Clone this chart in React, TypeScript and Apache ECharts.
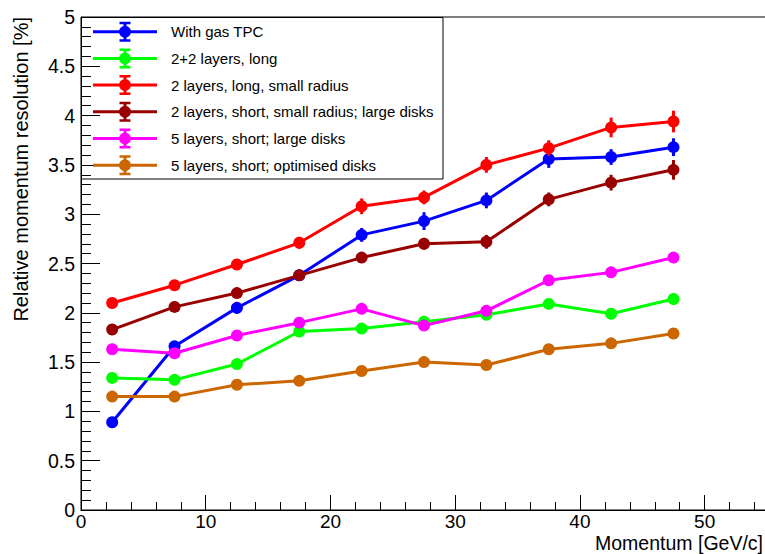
import React, { useEffect, useRef } from "react";
import * as echarts from "echarts";

const momenta = [2.5, 7.5, 12.5, 17.5, 22.5, 27.5, 32.5, 37.5, 42.5, 47.5];

const seriesNames = [
  "With gas TPC",
  "2+2 layers, long",
  "2 layers, long, small radius",
  "2 layers, short, small radius; large disks",
  "5 layers, short; large disks",
  "5 layers, short; optimised disks",
];

const seriesColors = ["#0000ff", "#00ff00", "#ff0000", "#990000", "#ff00ff", "#cc6600"];

const withGasTPC = [0.89, 1.66, 2.05, 2.38, 2.79, 2.93, 3.14, 3.56, 3.58, 3.68];
const twoPlusTwoLong = [1.34, 1.32, 1.48, 1.81, 1.84, 1.91, 1.98, 2.09, 1.99, 2.14];
const twoLongSmall = [2.1, 2.28, 2.49, 2.71, 3.08, 3.17, 3.5, 3.67, 3.88, 3.94];
const twoShortSmallLarge = [1.83, 2.06, 2.2, 2.38, 2.56, 2.7, 2.72, 3.15, 3.32, 3.45];
const fiveShortLarge = [1.63, 1.59, 1.77, 1.9, 2.04, 1.87, 2.02, 2.33, 2.41, 2.56];
const fiveShortOptimised = [1.15, 1.15, 1.27, 1.31, 1.41, 1.5, 1.47, 1.63, 1.69, 1.79];

const errWithGasTPC = [0.03, 0.05, 0.06, 0.05, 0.07, 0.09, 0.08, 0.09, 0.08, 0.09];
const errTwoPlusTwoLong = [0.03, 0.03, 0.04, 0.05, 0.04, 0.05, 0.05, 0.05, 0.05, 0.06];
const errTwoLongSmall = [0.04, 0.04, 0.05, 0.06, 0.08, 0.07, 0.08, 0.08, 0.1, 0.11];
const errTwoShortSmallLarge = [0.03, 0.04, 0.04, 0.05, 0.05, 0.06, 0.07, 0.07, 0.08, 0.1];
const errFiveShortLarge = [0.03, 0.03, 0.03, 0.04, 0.04, 0.05, 0.04, 0.05, 0.05, 0.05];
const errFiveShortOptimised = [0.02, 0.02, 0.03, 0.03, 0.03, 0.03, 0.03, 0.03, 0.03, 0.03];

const allValues = [withGasTPC, twoPlusTwoLong, twoLongSmall, twoShortSmallLarge, fiveShortLarge, fiveShortOptimised];
const allErrors = [errWithGasTPC, errTwoPlusTwoLong, errTwoLongSmall, errTwoShortSmallLarge, errFiveShortLarge, errFiveShortOptimised];

const FONT = "'Liberation Sans', Arial, Helvetica, sans-serif";

const legendIcon =
  "path://M0 8.5H64V11.5H0Z M26.5 0H37.5V2.5H26.5Z M26.5 17.5H37.5V20H26.5Z M30.5 2.5H33.5V17.5H30.5Z M32 4A6 6 0 1 1 32 16A6 6 0 1 1 32 4Z M72.9 9.9H73V10H72.9Z";

export default function App() {
  const ref = useRef<HTMLDivElement>(null);
  useEffect(() => {
    if (!ref.current) return;
    const chart = echarts.init(ref.current, undefined, { renderer: "svg" });

    const lineSeries = allValues.map((vals, i) => ({
      type: "line",
      name: seriesNames[i],
      data: vals.map((v, j) => [momenta[j], v]),
      symbol: "circle",
      symbolSize: 12,
      showSymbol: true,
      color: seriesColors[i],
      lineStyle: { color: seriesColors[i], width: 3 },
      itemStyle: { color: seriesColors[i], borderWidth: 0 },
      emphasis: { disabled: true },
      z: 3 + i,
    }));

    const errSeries = allValues.map((vals, i) => ({
      type: "custom",
      name: "err" + i,
      data: vals.map((v, j) => [momenta[j], v, allErrors[i][j]]),
      encode: { x: 0, y: 1 },
      z: 3 + i,
      renderItem: (_params: any, api: any) => {
        const x = api.value(0);
        const y = api.value(1);
        const e = api.value(2);
        const p1 = api.coord([x, y - e]);
        const p2 = api.coord([x, y + e]);
        return {
          type: "line",
          shape: { x1: p1[0], y1: p1[1], x2: p2[0], y2: p2[1] },
          style: { stroke: seriesColors[i], lineWidth: 3 },
        };
      },
    }));

    const option: any = {
      animation: false,
      backgroundColor: "#ffffff",
      grid: {
        left: 81,
        top: 17,
        bottom: 44,
        right: -64.4,
        containLabel: false,
        outerBoundsMode: "none",
        show: true,
        borderColor: "#000",
        borderWidth: 1,
        backgroundColor: "transparent",
      },
      xAxis: {
        type: "value",
        min: 0,
        max: 60,
        interval: 10,
        axisLine: { show: true, lineStyle: { color: "#000", width: 1 } },
        axisTick: { show: true, inside: true, length: 15, lineStyle: { color: "#000" } },
        minorTick: { show: true, splitNumber: 5, length: 8, lineStyle: { color: "#000" } },
        splitLine: { show: false },
        axisLabel: {
          fontSize: 19,
          lineHeight: 16,
          color: "#000",
          fontFamily: FONT,
          margin: 3.8,
          formatter: (v: number) => (v > 55 ? "" : String(v)),
        },
      },
      yAxis: {
        type: "value",
        min: 0,
        max: 5,
        interval: 0.5,
        axisLine: { show: true, lineStyle: { color: "#000", width: 1 } },
        axisTick: { show: true, inside: true, length: 19, lineStyle: { color: "#000" } },
        minorTick: { show: true, splitNumber: 5, length: 10, lineStyle: { color: "#000" } },
        splitLine: { show: false },
        axisLabel: { fontSize: 19.5, color: "#000", fontFamily: FONT, margin: 6 },
      },
      legend: {
        orient: "vertical",
        left: 93,
        top: 21.7,
        padding: 0,
        itemWidth: 73,
        itemHeight: 20,
        itemGap: 6.7,
        selectedMode: false,
        textStyle: { fontSize: 15, color: "#000", fontFamily: FONT },
        data: seriesNames.map((n) => ({ name: n, icon: legendIcon })),
      },
      graphic: [
        {
          type: "rect",
          shape: { x: 81.5, y: 17.5, width: 361.5, height: 161.5 },
          style: { fill: "none", stroke: "#000", lineWidth: 1 },
          z: 10,
        },
        {
          type: "text",
          x: 20.5,
          y: 17,
          rotation: Math.PI / 2,
          style: {
            text: "Relative momentum resolution [%]",
            fontSize: 20,
            fontFamily: FONT,
            fill: "#000",
            align: "right",
            verticalAlign: "middle",
          },
        },
        {
          type: "text",
          x: 763,
          y: 543.2,
          style: {
            text: "Momentum [GeV/c]",
            fontSize: 19.5,
            lineHeight: 16,
            fontFamily: FONT,
            fill: "#000",
            align: "right",
            verticalAlign: "middle",
          },
        },
      ],
      series: [...errSeries, ...lineSeries],
    };

    chart.setOption(option);
    return () => chart.dispose();
  }, []);

  return (
    <div
      ref={ref}
      style={{ position: "fixed", left: 0, top: 0, width: 765, height: 554, background: "#fff" }}
    />
  );
}
